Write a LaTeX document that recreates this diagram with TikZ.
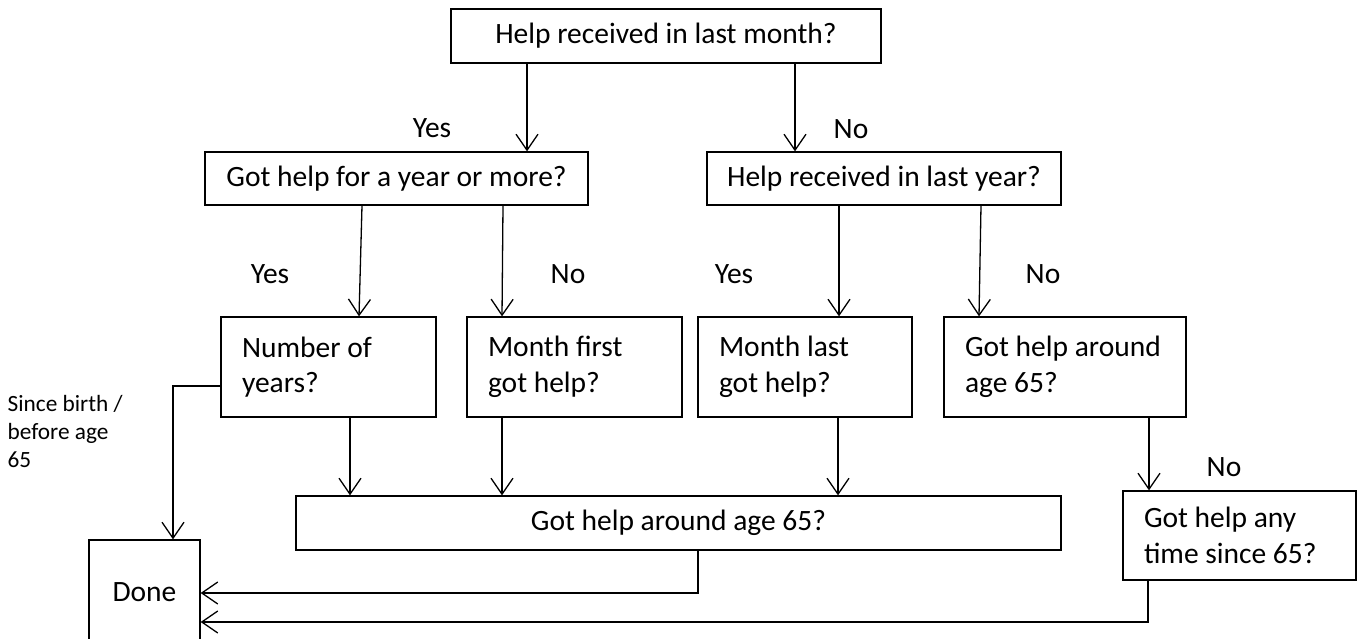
\documentclass[tikz,border=0pt]{standalone}
\usepackage{fontspec}
\setmainfont{Carlito}
\usetikzlibrary{arrows.meta}
\tikzset{
  >={Straight Barb[length=16pt,width=22pt]},
  q/.style={rectangle,draw,inner sep=0pt,font=\fontsize{29.5}{35.5}\selectfont},
  ql/.style={q,align=flush left,inner xsep=21pt,inner ysep=0pt},
  lb/.style={inner sep=0pt,font=\fontsize{29.5}{35.5}\selectfont},
  every picture/.style={line width=1.3pt},
}
\begin{document}
\begin{tikzpicture}[x=1pt,y=-1pt]
\useasboundingbox (0,0) rectangle (1363,639);
\node[q,minimum width=430pt,minimum height=54pt] (month) at (666,36){Help received in last month?};
\node[q,minimum width=383pt,minimum height=53pt] (yrmore) at (396.5,178.5){Got help for a year or more?};
\node[q,minimum width=354pt,minimum height=53pt] (lastyr) at (884,178.5){Help received in last year?};
\node[ql,text width=173pt,minimum height=100pt] (nyears) at (328.5,367){Number of\\years?};
\node[ql,text width=173pt,minimum height=100pt] (mfirst) at (574.5,367){Month first\\got help?};
\node[ql,text width=172pt,minimum height=100pt] (mlast) at (805,367){Month last\\got help?};
\node[ql,text width=200pt,minimum height=100pt] (age65) at (1065,367){Got help around\\age 65?};
\node[q,minimum width=765pt,minimum height=54pt] (around) at (678.5,523){Got help around age 65?};
\node[ql,text width=191pt,minimum height=89pt] (anytime) at (1239.5,535.5){Got help any\\time since 65?};
\node[q,minimum width=111pt,minimum height=104pt] (done) at (144.5,592){Done};
% branch labels
\node[lb] (y1) at (432,128){Yes}; \node[lb] (n1) at (851,129){No};
\node[lb] (y2) at (270,274){Yes}; \node[lb] (n2) at (568,274){No};
\node[lb] (y3) at (734,274){Yes}; \node[lb] (n3) at (1043,274){No};
\node[lb] (n4) at (1224,467){No};
\node[inner sep=0pt,anchor=north west,align=left,font=\fontsize{23.3}{28}\selectfont] (since) at (7,395){Since birth /\\before age\\65};
\draw[->] (month.south -| 527,0) -- (yrmore.north -| 527,0);
\draw[->] (month.south -| 795,0) -- (lastyr.north -| 795,0);
\draw[->] (yrmore.south -| 362,0) -- (nyears.north -| 359,0);
\draw[->] (yrmore.south -| 503,0) -- (mfirst.north -| 502,0);
\draw[->] (lastyr.south -| 839,0) -- (mlast.north -| 839,0);
\draw[->] (lastyr.south -| 981,0) -- (age65.north -| 979,0);
\draw[->] (nyears.south -| 350,0) -- (around.north -| 350,0);
\draw[->] (mfirst.south -| 502,0) -- (around.north -| 502,0);
\draw[->] (mlast.south -| 838,0) -- (around.north -| 838,0);
\draw[->] (age65.south -| 1149,0) -- (anytime.north -| 1149,0);
\draw[->] (nyears.west |- 0,386) -- (173,386) -- (done.north -| 173,0);
\draw[->] (around.south -| 698,0) |- (done.east |- 0,593);
\draw[->] (anytime.south -| 1148,0) |- (done.east |- 0,622);
\end{tikzpicture}
\end{document}
